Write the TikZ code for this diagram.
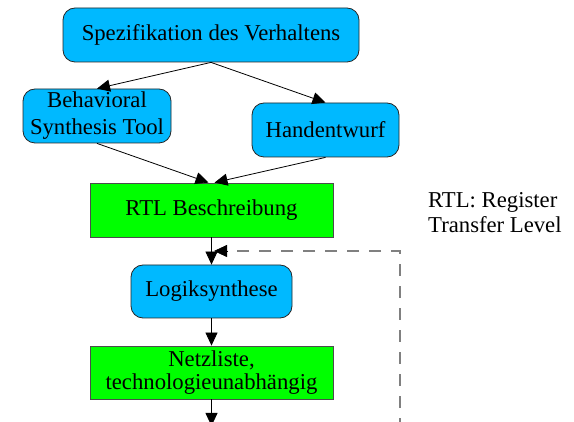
\documentclass[tikz,border=0pt]{standalone}
\usepackage{fontspec}
\setmainfont{Liberation Serif}
\newfontfamily\labelface{Liberation Serif}
\usetikzlibrary{arrows.meta}
\definecolor{boxblue}{RGB}{0,185,255}
\definecolor{boxgreen}{RGB}{0,255,0}
\definecolor{loopgray}{RGB}{128,128,128}
\begin{document}
\begin{tikzpicture}[x=1pt,y=-1pt,
  every node/.style={font=\labelface\fontsize{22.7}{25}\selectfont, align=center, inner sep=0pt},
  toolbox/.style={draw=black!85, line width=0.8pt, fill=boxblue, rounded corners=12pt},
  databox/.style={draw=black!70, line width=0.8pt, fill=boxgreen},
  flow/.style={draw=black, line width=0.8pt, -{Triangle[length=13pt,width=12pt]}},
  loopback/.style={draw=loopgray, line width=1.4pt, dash pattern=on 12pt off 10pt},
  note/.style={align=left, anchor=north west}
]
\useasboundingbox (0,0) rectangle (574,422);

% design steps
\node[toolbox, minimum width=296pt, minimum height=54pt] (spez) at (211,35) {Spezifikation des Verhaltens};
\node[toolbox, minimum width=148pt, minimum height=54pt] (behav) at (97,116) {Behavioral\\[2pt]Synthesis Tool};
\node[toolbox, minimum width=147pt, minimum height=54pt] (hand) at (325.5,130) {Handentwurf};
\node[databox, minimum width=243pt, minimum height=54pt] (rtl) at (211.5,210) {RTL Beschreibung};
\node[toolbox, minimum width=161pt, minimum height=53pt] (logik) at (211.5,291.5) {Logiksynthese};
\node[databox, minimum width=243pt, minimum height=53pt] (netz) at (211.5,372.5) {Netzliste,\\[-2pt]technologieunabh\"angig};

% annotation
\node[note] (abbr) at (428,192) {RTL: Register\\Transfer Level};

% flow between the steps
\draw[flow] (spez.south) -- (behav.north);
\draw[flow] (spez.south) -- (hand.north);
\draw[flow] (behav.south) -- ([xshift=-3pt]rtl.north);
\draw[flow] (hand.south) -- ([xshift=3pt]rtl.north);
\draw[flow] (rtl.south) -- (logik.north);
\draw[flow] (logik.south) -- (netz.north);
\coordinate (out) at (211.5,426);
\draw[flow] (netz.south) -- (out);

% feedback into the logic synthesis
\coordinate (fbstart) at (400,430);
\coordinate (fbcorner) at (400,251);
\coordinate (merge) at (214,251);
\draw[loopback] (fbstart) -- (fbcorner) -- ([xshift=10pt]merge);
\draw[flow] ([xshift=14pt]merge) -- (merge);
\end{tikzpicture}
\end{document}
